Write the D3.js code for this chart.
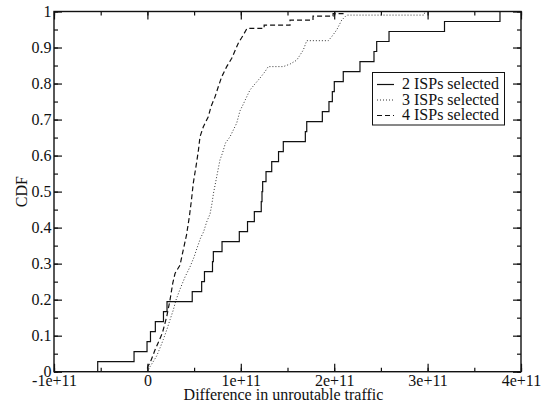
<!DOCTYPE html>
<html>
<head>
<meta charset="utf-8">
<script src="https://cdn.jsdelivr.net/npm/d3@7"></script>
<style>
  body { margin: 0; background: #fff; }
  svg { display: block; font-family: "Liberation Serif", "DejaVu Serif", serif; }
</style>
</head>
<body>
<script>
// values, x in units of 1e9
var xTicks = [-1e11, 0, 1e11, 2e11, 3e11, 4e11];
var xTickLabels = ["-1e+11", "0", "1e+11", "2e+11", "3e+11", "4e+11"];
var yTicks = [0, 0.1, 0.2, 0.3, 0.4, 0.5, 0.6, 0.7, 0.8, 0.9, 1];
var yTickLabels = ["0", "0.1", "0.2", "0.3", "0.4", "0.5", "0.6", "0.7", "0.8", "0.9", "1"];
var seriesNames = ["2 ISPs selected", "3 ISPs selected", "4 ISPs selected"];

// 2 ISPs: sorted samples of the empirical CDF (36 steps)
var isp2Samples = [-53.2, -14.3, -0.4, 3.3, 8.5, 17.2, 21.0, 48.0, 58.1, 61.1, 69.7, 70.6,
  79.9, 98.4, 107.2, 114.5, 121.9, 122.7, 123.4, 127.0, 133.1, 140.4, 145.5, 169.1,
  170.6, 187.3, 194.4, 198.0, 200.1, 209.7, 227.6, 242.6, 245.5, 258.7, 318.1, 377.5];

// 3 ISPs: points
var isp3X = [-100, 0.1, 2.8, 6.0, 10.0, 13.5, 17.0, 20.7, 24.2, 27.7, 30.6, 34.9, 40.3, 45.6,
  49.9, 53.1, 56.9, 60.1, 63.5, 67.1, 69.2, 70.8, 72.9, 75.6, 77.7, 80.4, 83.6, 88.4, 92.0,
  95.6, 99.1, 102.7, 106.3, 109.8, 115.2, 120.5, 125.9, 129.4, 145.5, 152.7, 159.9, 166.9,
  170.6, 193.7, 197.3, 202.7, 208.0, 213.4, 296.2, 297.2, 400];
var isp3Y = [0, 0, 0.014, 0.027, 0.044, 0.066, 0.089, 0.116, 0.144, 0.171, 0.199, 0.229, 0.263, 0.291,
  0.318, 0.343, 0.371, 0.388, 0.416, 0.438, 0.468, 0.496, 0.524, 0.560, 0.588, 0.607, 0.635, 0.652, 0.671,
  0.690, 0.724, 0.743, 0.763, 0.782, 0.799, 0.815, 0.833, 0.847, 0.847, 0.854, 0.865, 0.893,
  0.919, 0.919, 0.930, 0.949, 0.976, 0.990, 0.990, 1, 1];

// 4 ISPs: points
var isp4X = [-100, -1.0, 0.6, 2.8, 8.1, 16.0, 20.7, 24.2, 27.1, 29.6, 34.9, 38.4, 41.9, 44.9, 47.2,
  49.1, 52.6, 54.7, 56.3, 59.9, 65.2, 68.1, 72.4, 75.9, 79.6, 84.9, 90.3, 97.3, 102.7, 106.6,
  125.0, 125.0, 152.7, 152.7, 177.3, 177.3, 198.8, 198.8, 210.5, 210.5, 400];
var isp4Y = [0, 0, 0.016, 0.024, 0.060, 0.107, 0.153, 0.199, 0.245, 0.273, 0.296, 0.338, 0.380, 0.430, 0.477,
  0.523, 0.579, 0.616, 0.652, 0.680, 0.708, 0.736, 0.763, 0.791, 0.819, 0.847, 0.870, 0.912, 0.935, 0.953,
  0.953, 0.962, 0.962, 0.976, 0.976, 0.987, 0.987, 0.994, 0.994, 1, 1];

var width = 548, height = 406;
var margin = {top: 11.5, right: 27, bottom: 34.3, left: 54};
var ink = "#111";

var svg = d3.select("body").append("svg")
    .attr("width", width)
    .attr("height", height);

var x = d3.scaleLinear().domain([-1e11, 4e11]).range([margin.left, width - margin.right]);
var y = d3.scaleLinear().domain([0, 1]).range([height - margin.bottom, margin.top]);

var minorX = d3.range(-1e11, 4e11 + 1, 5e10);
var minorY = d3.range(0, 1.0001, 0.05);

function styleAxis(g) {
    g.select(".domain").remove();
    g.selectAll("line").attr("stroke", ink).attr("stroke-width", 1.2);
    g.selectAll("text").attr("fill", ink).style("font-size", "16px")
        .style("font-family", '"Liberation Serif", serif');
}

// minor ticks on four sides
var bottomY = height - margin.bottom, leftX = margin.left;
svg.append("g").attr("transform", `translate(0,${bottomY})`)
    .call(d3.axisBottom(x).tickValues(minorX).tickSize(-4).tickFormat(""))
    .call(styleAxis);
svg.append("g").attr("transform", `translate(0,${margin.top})`)
    .call(d3.axisTop(x).tickValues(minorX).tickSize(-4).tickFormat(""))
    .call(styleAxis);
svg.append("g").attr("transform", `translate(${leftX},0)`)
    .call(d3.axisLeft(y).tickValues(minorY).tickSize(-4).tickFormat(""))
    .call(styleAxis);
svg.append("g").attr("transform", `translate(${width - margin.right},0)`)
    .call(d3.axisRight(y).tickValues(minorY).tickSize(-4).tickFormat(""))
    .call(styleAxis);

// major ticks
svg.append("g").attr("transform", `translate(0,${bottomY})`)
    .call(d3.axisBottom(x).tickValues(xTicks).tickSize(-8).tickPadding(2.5)
        .tickFormat((d, i) => xTickLabels[i]))
    .call(styleAxis);
svg.append("g").attr("transform", `translate(0,${margin.top})`)
    .call(d3.axisTop(x).tickValues(xTicks).tickSize(-8).tickFormat(""))
    .call(styleAxis);
svg.append("g").attr("transform", `translate(${leftX},0)`)
    .call(d3.axisLeft(y).tickValues(yTicks).tickSize(-8).tickPadding(2.5)
        .tickFormat((d, i) => yTickLabels[i]))
    .call(styleAxis);
svg.append("g").attr("transform", `translate(${width - margin.right},0)`)
    .call(d3.axisRight(y).tickValues(yTicks).tickSize(-8).tickFormat(""))
    .call(styleAxis);

// curves
var clip = svg.append("clipPath").attr("id", "plot")
    .append("rect")
    .attr("x", margin.left).attr("y", margin.top - 2)
    .attr("width", width - margin.left - margin.right)
    .attr("height", height - margin.top - margin.bottom + 2);

var n2 = isp2Samples.length;
var isp2Pts = [[-100, 0]].concat(isp2Samples.map((v, i) => [v, (i + 1) / n2]), [[400, 1]]);
var isp3Pts = isp3X.map((v, i) => [v, isp3Y[i]]);
var isp4Pts = isp4X.map((v, i) => [v, isp4Y[i]]);

var stepLine = d3.line().x(d => x(d[0] * 1e9)).y(d => y(d[1])).curve(d3.curveStepAfter);
var plainLine = d3.line().x(d => x(d[0] * 1e9)).y(d => y(d[1]));

var curves = svg.append("g").attr("clip-path", "url(#plot)").attr("fill", "none");
curves.append("path").attr("d", stepLine(isp2Pts))
    .attr("stroke", ink).attr("stroke-width", 1.2);
curves.append("path").attr("d", plainLine(isp3Pts))
    .attr("stroke", "#333").attr("stroke-width", 1).attr("stroke-dasharray", "1,2");
curves.append("path").attr("d", plainLine(isp4Pts))
    .attr("stroke", ink).attr("stroke-width", 1.2).attr("stroke-dasharray", "5,3");

// frame
svg.append("rect")
    .attr("x", margin.left).attr("y", margin.top)
    .attr("width", width - margin.left - margin.right)
    .attr("height", height - margin.top - margin.bottom)
    .attr("fill", "none").attr("stroke", ink).attr("stroke-width", 1.4);

// axis titles
svg.append("text")
    .attr("x", (margin.left + width - margin.right) / 2 - 4)
    .attr("y", 400)
    .attr("text-anchor", "middle")
    .attr("fill", ink)
    .style("font-size", "16px")
    .text("Difference in unroutable traffic");
svg.append("text")
    .attr("transform", `translate(27,${(margin.top + height - margin.bottom) / 2}) rotate(-90)`)
    .attr("text-anchor", "middle")
    .attr("fill", ink)
    .style("font-size", "16px")
    .text("CDF");

// legend
var legend = svg.append("g");
legend.append("rect")
    .attr("x", 372.5).attr("y", 72.5).attr("width", 132).attr("height", 52.5)
    .attr("fill", "#fff").attr("stroke", ink).attr("stroke-width", 1);
var dashes = [null, "1,2", "5,3"];
seriesNames.forEach(function(name, i) {
    var cy = 84.5 + i * 15.5;
    legend.append("line")
        .attr("x1", 377).attr("x2", 394).attr("y1", cy).attr("y2", cy)
        .attr("stroke", i == 1 ? "#333" : ink).attr("stroke-width", i == 1 ? 1 : 1.2)
        .attr("stroke-dasharray", dashes[i]);
    legend.append("text")
        .attr("x", 402).attr("y", cy + 4.5)
        .attr("fill", ink)
        .style("font-size", "16px")
        .text(name);
});
</script>
</body>
</html>
